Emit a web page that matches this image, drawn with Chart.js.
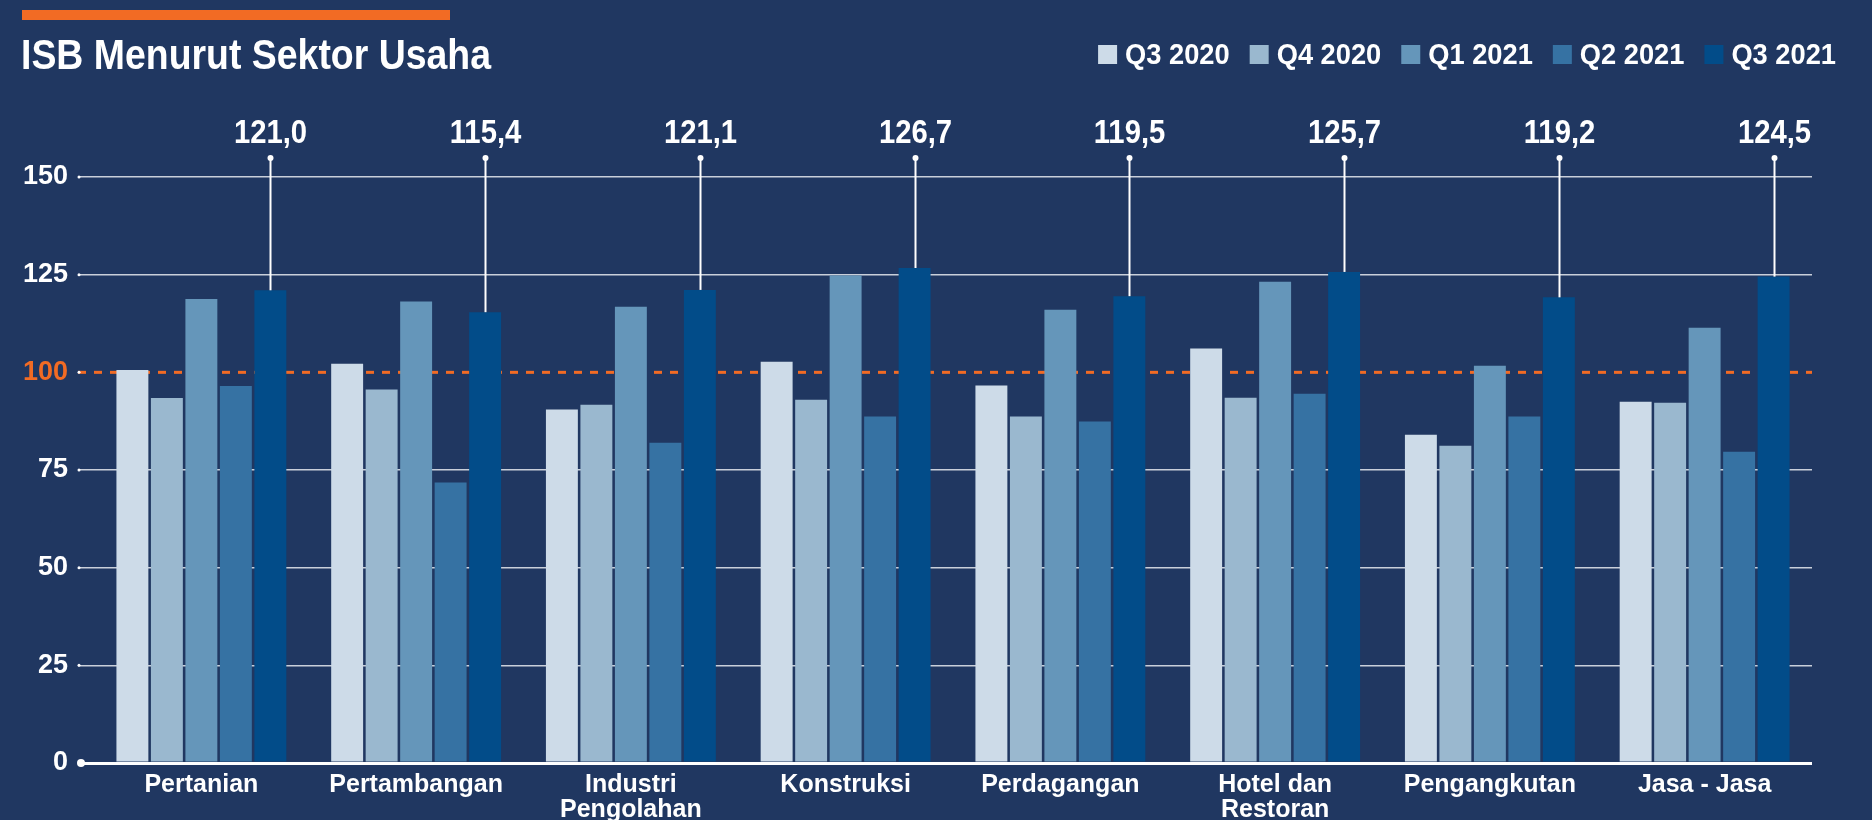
<!DOCTYPE html>
<html lang="id">
<head>
    <meta charset="UTF-8">
    <title>ISB Menurut Sektor Usaha</title>
    <script src="https://cdn.jsdelivr.net/npm/chart.js@4.4.1/dist/chart.umd.min.js"></script>
    <style>
        html, body { margin: 0; padding: 0; background: #203761; }
        #wrap { position: relative; width: 1872px; height: 820px; }
    </style>
</head>
<body>
<div id="wrap"><canvas id="myChart"></canvas></div>

<script type="text/javascript">
    // data
    var titleText = 'ISB Menurut Sektor Usaha';
    var categories = ['Pertanian', 'Pertambangan', ['Industri', 'Pengolahan'], 'Konstruksi',
                      'Perdagangan', ['Hotel dan', 'Restoran'], 'Pengangkutan', 'Jasa - Jasa'];
    var seriesLabels = ['Q3 2020', 'Q4 2020', 'Q1 2021', 'Q2 2021', 'Q3 2021'];
    var q3_2020 = [100.6, 102.2, 90.5, 102.7, 96.6, 106.1, 84.0, 92.5];
    var q4_2020 = [93.4, 95.6, 91.7, 93.0, 88.7, 93.5, 81.2, 92.2];
    var q1_2021 = [118.8, 118.1, 116.8, 124.8, 116.0, 123.2, 101.7, 111.4];
    var q2_2021 = [96.5, 71.8, 82.0, 88.7, 87.4, 94.5, 88.7, 79.7];
    var q3_2021 = [121.0, 115.4, 121.1, 126.7, 119.5, 125.7, 119.2, 124.5];
    var yTicks = [0, 25, 50, 75, 100, 125, 150];
    var refLine = 100;

    var FONT = "'Liberation Sans', Arial, sans-serif";
    var BG = '#203761';
    var ORANGE = '#f26b24';
    var colors = ['#cddbe8', '#9ab8cf', '#6596ba', '#3672a3', '#024c89'];
    var allSeries = [q3_2020, q4_2020, q1_2021, q2_2021, q3_2021];

    function fmt(v) {
        return v.toFixed(1).replace('.', ',');
    }

    var decor = {
        id: 'decor',
        beforeDraw: function(chart) {
            var c = chart.ctx;
            c.save();
            c.fillStyle = BG;
            c.fillRect(0, 0, chart.width, chart.height);
            c.restore();
        },
        beforeDatasetsDraw: function(chart) {
            // dashed reference line at 100, under the bars
            var c = chart.ctx, y = chart.scales.y.getPixelForValue(refLine);
            c.save();
            c.strokeStyle = ORANGE;
            c.lineWidth = 3;
            c.setLineDash([8, 8]);
            c.beginPath();
            c.moveTo(chart.chartArea.left - 16, y);
            c.lineTo(chart.chartArea.right, y);
            c.stroke();
            c.restore();
        },
        afterDraw: function(chart) {
            var c = chart.ctx, area = chart.chartArea, ys = chart.scales.y;
            c.save();

            // orange strip + title
            c.fillStyle = ORANGE;
            c.fillRect(22, 10, 428, 10);
            c.fillStyle = '#ffffff';
            c.font = 'bold 42px ' + FONT;
            c.textBaseline = 'alphabetic';
            c.textAlign = 'left';
            c.fillText(titleText, 21, 69, 470);

            // legend, right aligned
            c.font = 'bold 29px ' + FONT;
            c.textBaseline = 'middle';
            var x = 1836;
            for (var i = chart.data.datasets.length - 1; i >= 0; i--) {
                var ds = chart.data.datasets[i];
                var w = c.measureText(ds.label).width * 0.94;
                var tx = x - w;
                c.fillStyle = '#ffffff';
                c.fillText(ds.label, tx, 56, w);
                c.fillStyle = ds.backgroundColor;
                c.fillRect(tx - 27, 45, 19, 19);
                x = tx - 27 - 20;
            }

            // dots at the left end of grid lines
            c.fillStyle = '#ffffff';
            yTicks.forEach(function(v) {
                var py = ys.getPixelForValue(v);
                c.beginPath();
                c.arc(v === 0 ? 81 : 79, py, v === 0 ? 4 : 1.5, 0, Math.PI * 2);
                c.fill();
            });

            // callouts on the last series
            var meta = chart.getDatasetMeta(4);
            var vals = chart.data.datasets[4].data;
            var dotY = area.top - 19;
            c.strokeStyle = '#ffffff';
            c.lineWidth = 2;
            c.font = 'bold 34px ' + FONT;
            c.textAlign = 'center';
            c.textBaseline = 'alphabetic';
            meta.data.forEach(function(bar, k) {
                var bx = Math.round(bar.x) + 0.5;
                c.beginPath();
                c.moveTo(bx, bar.y);
                c.lineTo(bx, dotY);
                c.stroke();
                c.beginPath();
                c.arc(bx, dotY, 3, 0, Math.PI * 2);
                c.fill();
                var label = fmt(vals[k]);
                var lw = c.measureText(label).width * 0.86;
                c.fillText(label, bx, dotY - 15, lw);
            });
            c.restore();
        }
    };

    var datasets = [];
    for (var i = 0; i < seriesLabels.length; i++) {
        datasets.push({
            label: seriesLabels[i],
            data: allSeries[i],
            backgroundColor: colors[i],
            borderWidth: 0,
            categoryPercentage: 0.803,
            barPercentage: 0.926
        });
    }

    var ctx = document.getElementById('myChart').getContext('2d');
    var chart = new Chart(ctx, {
        type: 'bar',
        data: {
            labels: categories,
            datasets: datasets
        },
        options: {
            responsive: true,
            maintainAspectRatio: false,
            animation: false,
            layout: { padding: { top: 177, left: 20, right: 60, bottom: 0 } },
            plugins: {
                legend: { display: false },
                title: { display: false },
                tooltip: { enabled: false }
            },
            scales: {
                x: {
                    grid: { display: false, drawTicks: false },
                    border: { display: false },
                    ticks: {
                        color: '#ffffff',
                        font: { family: FONT, size: 25, weight: 'bold', lineHeight: 1.0 },
                        padding: 10,
                        maxRotation: 0,
                        autoSkip: false
                    },
                    afterFit: function(s) { s.height = 57; }
                },
                y: {
                    min: 0,
                    max: 150,
                    afterBuildTicks: function(axis) {
                        axis.ticks = yTicks.map(function(v) { return { value: v }; });
                    },
                    border: { display: false },
                    grid: {
                        color: function(c) {
                            if (c.tick.value === refLine) return 'rgba(0,0,0,0)';
                            if (c.tick.value === 0) return '#ffffff';
                            return '#c9cfda';
                        },
                        lineWidth: function(c) { return c.tick.value === 0 ? 3 : 1.5; },
                        tickLength: 16
                    },
                    ticks: {
                        color: function(c) { return c.tick.value === refLine ? ORANGE : '#ffffff'; },
                        font: { family: FONT, size: 27, weight: 'bold' },
                        padding: 10
                    },
                    afterFit: function(s) { s.width = 74; }
                }
            }
        },
        plugins: [decor]
    });
</script>
</body>
</html>
